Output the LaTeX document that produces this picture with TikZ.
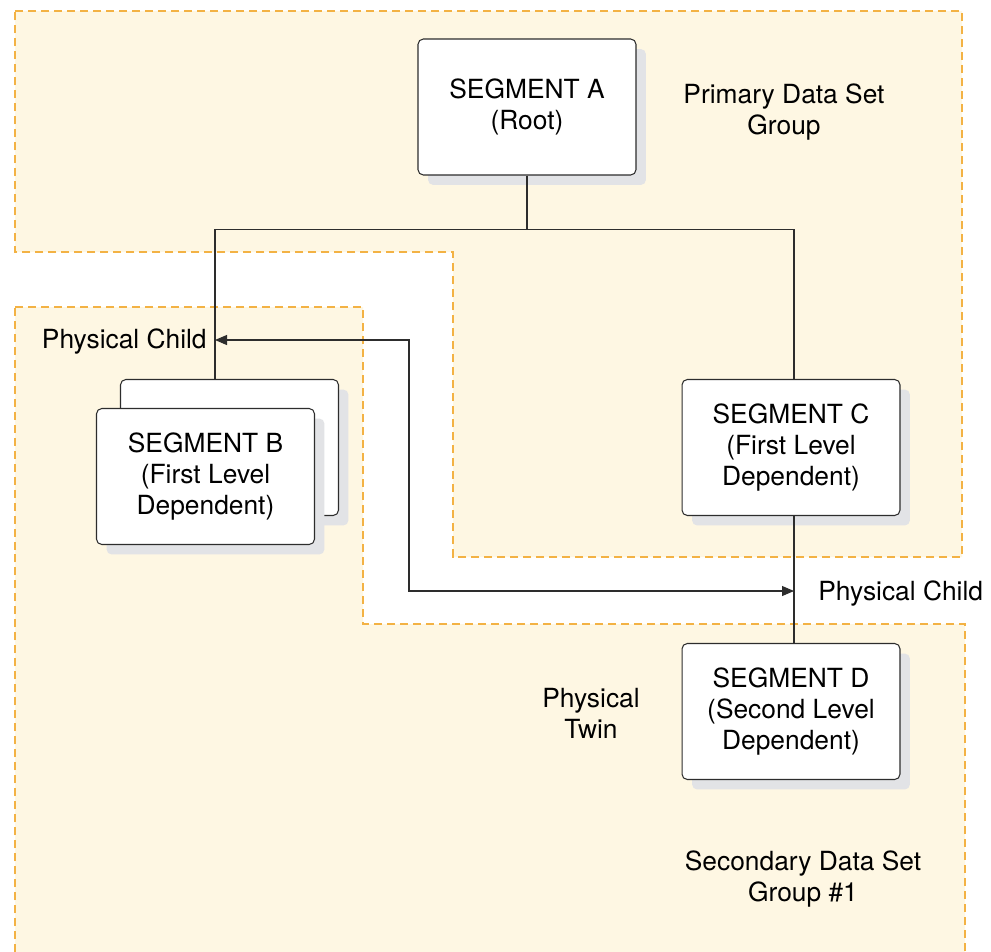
\documentclass[tikz,border=0pt]{standalone}
\usepackage{fontspec}
\setmainfont{TeX Gyre Heros}
\usetikzlibrary{arrows.meta,shadows}

\definecolor{grpfill}{RGB}{254,247,227}
\definecolor{grpline}{RGB}{243,178,68}
\definecolor{shadowgray}{RGB}{226,227,230}
\definecolor{boxline}{RGB}{45,45,45}
\newcommand{\diagfont}{\fontsize{15}{17.6}\selectfont}

\begin{document}
\begin{tikzpicture}[
    x=0.02cm, y=-0.02cm,
    grp/.style={
        fill=grpfill,
        draw=grpline,
        line width=0.7pt,
        dash pattern=on 0.16cm off 0.1cm
    },
    seg/.style={
        draw=boxline,
        fill=white,
        rounded corners=3pt,
        line width=0.6pt,
        minimum width=4.36cm,
        minimum height=2.72cm,
        align=center,
        font=\diagfont,
        drop shadow={shadow xshift=0.2cm, shadow yshift=-0.2cm,
                     fill=shadowgray, opacity=1}
    },
    lbl/.style={
        font=\diagfont,
        align=center,
        inner sep=0pt
    },
    link/.style={
        draw=boxline,
        line width=0.6pt
    },
    twin/.style={
        link,
        {Triangle[length=0.24cm,width=0.2cm]}-{Triangle[length=0.24cm,width=0.2cm]}
    }
]
\useasboundingbox (0,0) rectangle (991,951);

%--- Data set groups ---
\path[grp] (15,11) -- (962,11) -- (962,557) -- (453,557)
    -- (453,252) -- (15,252) -- cycle;
\path[grp] (15,307) -- (363,307) -- (363,624) -- (965,624)
    -- (965,960) -- (15,960) -- cycle;

\node[lbl] (primary) at (784,112) {Primary Data Set\\Group};
\node[lbl] (secondary) at (803,879) {Secondary Data Set\\Group \#1};

%--- Segments ---
\node[seg] (a) at (527,107) {SEGMENT A\\(Root)};
\node[seg] (bback) at (229.5,447.5) {};
\node[seg] (b) at (205.5,476.5) {SEGMENT B\\(First Level\\Dependent)};
\node[seg] (c) at (791,447.5) {SEGMENT C\\(First Level\\Dependent)};
\node[seg] (d) at (791,711.5) {SEGMENT D\\(Second Level\\Dependent)};

%--- Hierarchy ---
\draw[link] (a.south) -- ++(0,54) -| ([xshift=-0.29cm]bback.north);
\draw[link] (a.south) -- ++(0,54) -| ([xshift=0.06cm]c.north);
\draw[link] ([xshift=0.06cm]c.south) -- ([xshift=0.06cm]d.north);

%--- Physical child pointers ---
\coordinate (tipB) at (215,340);
\coordinate (bendT) at (409,340);
\coordinate (bendB) at (409,591);
\coordinate (tipC) at (794,591);
\draw[twin] (tipB) -- (bendT) -- (bendB) -- (tipC);

\node[lbl, anchor=east] (childB) at (207,342) {Physical Child};
\node[lbl, anchor=west] (childC) at (818,594) {Physical Child};
\node[lbl] (ptwin) at (591,713) {Physical\\Twin};

\end{tikzpicture}
\end{document}
